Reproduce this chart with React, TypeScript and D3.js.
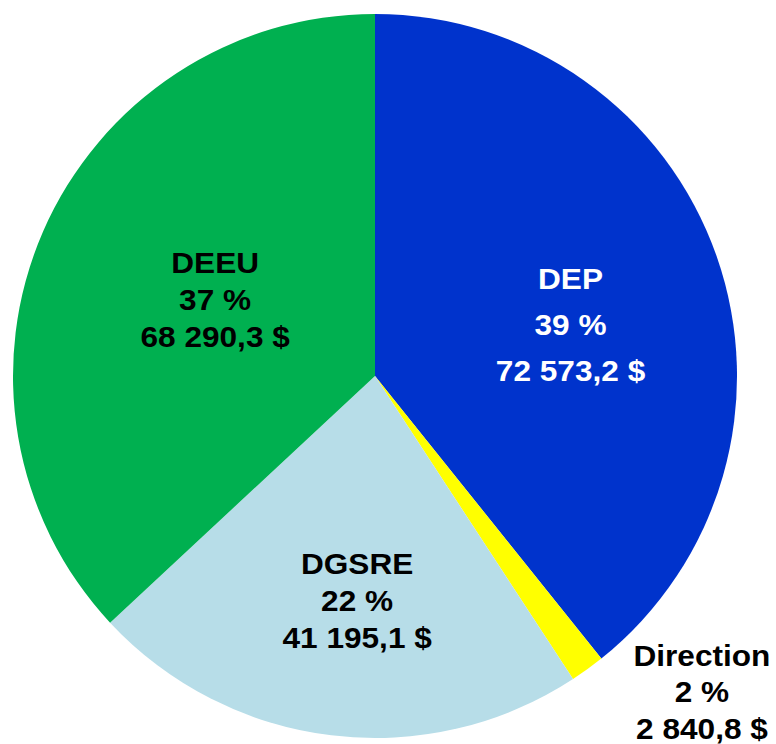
import React, { useEffect, useRef } from 'react';
import * as d3 from 'd3';

const categories = ['DEP', 'Direction', 'DGSRE', 'DEEU'];
const amounts = [72573.2, 2840.8, 41195.1, 68290.3];
const colors = ['#0033CC', '#FFFF00', '#B7DDE8', '#00B050'];
const textColors = ['#FFFFFF', '#000000', '#000000', '#000000'];

const App = () => {
    const ref = useRef<SVGSVGElement>(null);

    useEffect(() => {
        const width = 776;
        const height = 744;
        const cx = 375;
        const cy = 376;
        const radius = 362;

        const svg = d3.select(ref.current);
        svg.selectAll('*').remove();

        const data = categories.map((name, i) => ({
            name,
            value: amounts[i],
            color: colors[i],
            textColor: textColors[i]
        }));
        const total = d3.sum(amounts);

        const fr = d3.formatLocale({ decimal: ',', thousands: ' ', grouping: [3], currency: ['', ' $'] });
        const money = fr.format(',.1f');

        const pie = d3.pie<any>().sort(null).value(d => d.value);
        const arcs = pie(data);

        const arc = d3.arc<any>().innerRadius(0).outerRadius(radius);

        const g = svg.append('g').attr('transform', `translate(${cx}, ${cy})`);

        g.selectAll('path')
            .data(arcs)
            .enter()
            .append('path')
            .attr('d', arc)
            .style('fill', d => d.data.color);

        // label placement: radius and angle tweak (degrees) per slice, line spacing
        const placement: Record<string, { r: number; da: number; gap: number }> = {
            DEP: { r: 202, da: 4.8, gap: 46 },
            Direction: { r: 455, da: -10, gap: 36.5 },
            DGSRE: { r: 226, da: -2.4, gap: 37 },
            DEEU: { r: 177, da: 1.9, gap: 37 }
        };

        arcs.forEach(a => {
            const p = placement[a.data.name];
            const mid = (a.startAngle + a.endAngle) / 2 + (p.da * Math.PI) / 180;
            const x = Math.sin(mid) * p.r;
            const y = -Math.cos(mid) * p.r;
            const pct = Math.round((a.data.value / total) * 100);
            const lines = [a.data.name, `${pct} %`, `${money(a.data.value)} $`];

            // the original text is slightly stretched horizontally
            const text = g.append('text')
                .attr('transform', `translate(${x}, ${y}) scale(1.09, 1)`)
                .attr('text-anchor', 'middle')
                .style('font-family', '"Liberation Sans", Arial, sans-serif')
                .style('font-weight', 'bold')
                .style('font-size', '29px')
                .style('fill', a.data.textColor);

            lines.forEach((line, i) => {
                text.append('tspan')
                    .attr('x', 0)
                    .attr('y', (i - 1) * p.gap + 10)
                    .text(line);
            });
        });

        svg.attr('width', width).attr('height', height);
    }, []);

    return (
        <svg
            ref={ref}
            width={776}
            height={744}
            style={{ position: 'absolute', left: 0, top: 0, background: '#fff' }}
        />
    );
};

export default App;
